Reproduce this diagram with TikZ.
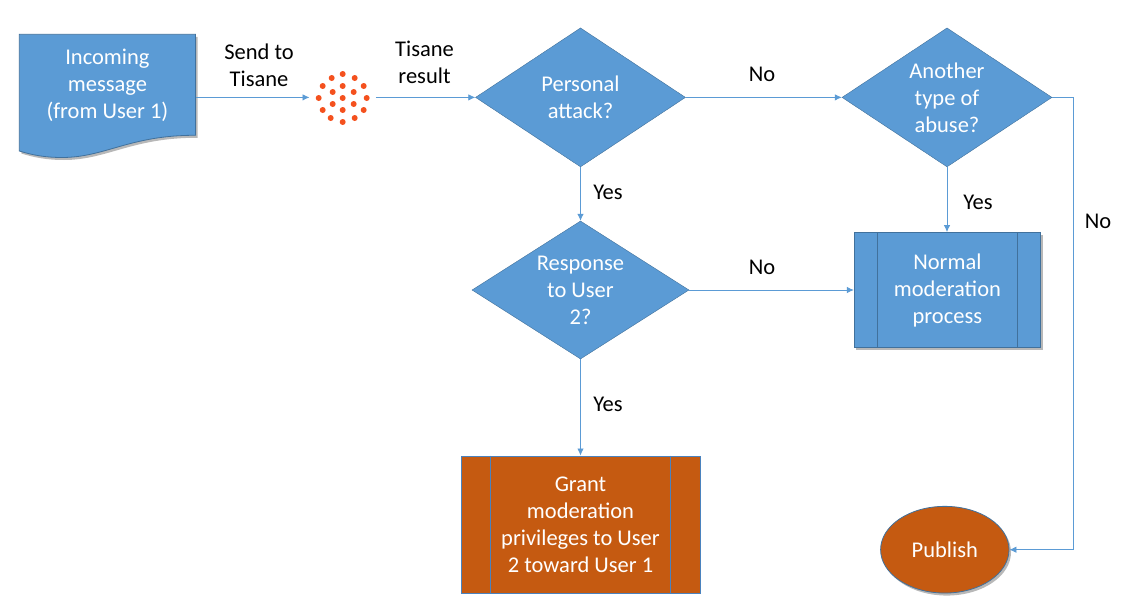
\documentclass[tikz,border=0pt]{standalone}
\usepackage{fontspec}
\setmainfont{Carlito}
\usetikzlibrary{arrows.meta,shapes.geometric,shadows}
\definecolor{flowblue}{HTML}{5B9BD5}
\definecolor{flowedge}{HTML}{41719C}
\definecolor{grantedge}{HTML}{4A82BE}
\definecolor{floworange}{HTML}{C55A11}
\definecolor{dotred}{HTML}{F4511E}
\tikzset{
  softshadow/.style={drop shadow={shadow xshift=2pt,shadow yshift=-2.5pt,fill=black,opacity=0.28}},
  lbl/.style={font=\fontsize{22.5}{27}\selectfont,align=center,inner sep=0pt},
  inbox/.style={lbl,text=white},
  decision/.style={inbox,diamond,draw=flowedge,fill=flowblue,minimum width=210pt,minimum height=139pt,aspect=1.5,inner sep=-5pt},
  procbox/.style={inbox,rectangle,draw=flowedge,line width=0.8pt,minimum height=115pt},
  flow/.style={draw=flowblue,line width=0.8pt,-{Latex[length=7pt,width=6.5pt]}}
}

\begin{document}
\begin{tikzpicture}[x=1pt,y=-1pt]
  \useasboundingbox (0,0) rectangle (1145,602);

  % document shape
  \draw[draw=flowedge,fill=flowblue,line width=0.8pt,softshadow]
    (19.3,34.3) -- (195.5,34.3) -- (195.5,135.3)
    .. controls (130,135) and (105,157.5) .. (62,157.5)
    .. controls (45,157.5) and (32,155) .. (19.3,151) -- cycle;
  \node[minimum width=176pt,minimum height=126pt,inner sep=0pt] (msg) at (107.4,97.4) {};
  \node[inbox] (msgtext) at (107.4,85.5) {Incoming\\message\\(from User 1)};

  % tisane logo
  \node[circle,minimum size=66pt,inner sep=0pt] (tisane) at (342.7,97.4) {};
  \foreach \dx/\dy in {0/-24,-11/-20,12/-20,-20/-12,0/-12,21/-12,-10/-6,11/-6,-24/0,0/0,24/0,
      -10/6,11/6,-20/12,0/12,21/12,-12/20,12/20,0/24}
    \fill[dotred] (342.7+\dx,98+\dy) circle (3pt);

  % decisions
  \node[decision] (attack) at (580.5,97.4) {Personal\\attack?};
  \node[decision,minimum width=217pt,minimum height=138pt] (response) at (580.5,290) {Response\\to User\\2?};
  \node[decision] (abuse) at (947,97.4) {Another\\type of\\abuse?};

  % processes
  \node[procbox,fill=flowblue,minimum width=186.4pt,softshadow] (normal) at (947.4,290) {Normal\\moderation\\process};
  \draw[flowedge,line width=0.8pt] ([xshift=23.2pt]normal.north west) -- ([xshift=23.2pt]normal.south west);
  \draw[flowedge,line width=0.8pt] ([xshift=-23.2pt]normal.north east) -- ([xshift=-23.2pt]normal.south east);

  \node[procbox,draw=grantedge,line width=1pt,fill=floworange,minimum width=239pt,minimum height=137pt] (grant) at (580.5,524.5)
    {Grant\\moderation\\privileges to User\\2 toward User 1};
  \draw[grantedge,line width=1pt] ([xshift=30pt]grant.north west) -- ([xshift=30pt]grant.south west);
  \draw[grantedge,line width=1pt] ([xshift=-30pt]grant.north east) -- ([xshift=-30pt]grant.south east);

  \node[inbox,ellipse,draw=flowedge,fill=floworange,line width=0.8pt,minimum width=128.4pt,minimum height=86.7pt,softshadow]
    (publish) at (944.8,549.7) {Publish};

  % connectors
  \coordinate (corner1) at (1073,97.4);
  \coordinate (corner2) at (1073,549.7);
  \draw[flow] (msg.east) -- (tisane.west);
  \draw[flow] (tisane.east) -- (attack.west);
  \draw[flow] (attack.east) -- (abuse.west);
  \draw[flow] (attack.south) -- (response.north);
  \draw[flow] (response.east) -- (normal.west);
  \draw[flow] (response.south) -- (grant.north);
  \draw[flow] (abuse.south) -- (abuse.south |- normal.north);
  \draw[flow] (abuse.east) -- (corner1) -- (corner2) -- (publish.east);

  % labels
  \node[lbl] (sendlbl) at (259,65) {Send to\\Tisane};
  \node[lbl] (resultlbl) at (424.5,62) {Tisane\\result};
  \node[lbl] (no1) at (762,74.5) {No};
  \node[lbl] (yes1) at (608,192.5) {Yes};
  \node[lbl] (no2) at (762,267.5) {No};
  \node[lbl] (yes2) at (978,202.5) {Yes};
  \node[lbl] (no3) at (1098,221.5) {No};
  \node[lbl] (yes3) at (608,404.5) {Yes};
\end{tikzpicture}
\end{document}
